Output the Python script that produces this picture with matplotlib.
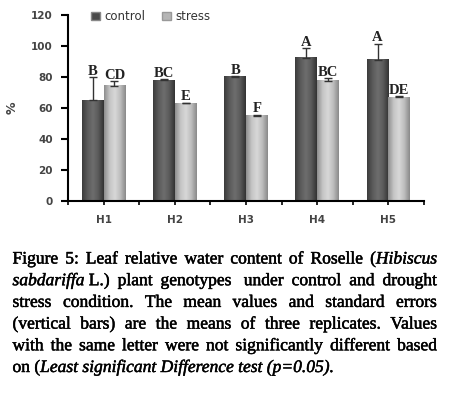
import numpy as np
import matplotlib
matplotlib.use("Agg")
import matplotlib.pyplot as plt
import matplotlib.patheffects as pe
from matplotlib.patches import Patch
from matplotlib.colors import LinearSegmentedColormap

# Data
genotypes = ['H1', 'H2', 'H3', 'H4', 'H5']
control = [65, 78, 80, 92.5, 91]
stress = [74.5, 63, 55, 77.5, 67]
control_err = [15, 0.8, 0.6, 6, 10.5]
stress_err = [2.8, 0.5, 0.8, 1.8, 0.5]
control_letters = ['B', 'BC', 'B', 'A', 'A']
stress_letters = ['CD', 'E', 'F', 'BC', 'DE']

caption_lines = [
    [[('Figure', 'n')], [('5:', 'n')], [('Leaf', 'n')], [('relative', 'n')], [('water', 'n')],
     [('content', 'n')], [('of', 'n')], [('Roselle', 'n')], [('(', 'n'), ('Hibiscus', 'i')]],
    [[('sabdariffa', 'i'), (' L.)', 'n')], [('plant', 'n')], [('genotypes ', 'n')], [('under', 'n')],
     [('control', 'n')], [('and', 'n')], [('drought', 'n')]],
    [[(w, 'n')] for w in 'stress condition. The mean values and standard errors'.split()],
    [[(w, 'n')] for w in '(vertical bars) are the means of three replicates. Values'.split()],
    [[(w, 'n')] for w in 'with the same letter were not significantly different based'.split()],
    [[('on', 'n')], [('(', 'n'), ('Least', 'i')], [('significant', 'i')], [('Difference', 'i')],
     [('test', 'i')], [('(p=0.05).', 'i')]],
]

W, H = 449, 395
fig = plt.figure(figsize=(W / 100, H / 100), dpi=100)
ax = fig.add_axes([68 / W, 1 - 201 / H, (424 - 68) / W, (201 - 15) / H])

x = np.arange(len(genotypes))
bw = 0.305
dark = LinearSegmentedColormap.from_list('d', ['#3c3c3c', '#5a5a5a', '#6e6e6e', '#5a5a5a', '#333333'])
light = LinearSegmentedColormap.from_list('l', ['#8e8e8e', '#c4c4c4', '#d8d8d8', '#bdbdbd', '#8a8a8a'])

b1 = ax.bar(x - bw / 2, control, bw, color='none', edgecolor='none', zorder=2)
b2 = ax.bar(x + bw / 2, stress, bw, color='none', edgecolor='none', zorder=2)
grad = np.linspace(0, 1, 64).reshape(1, -1)
for bars, cm in [(b1, dark), (b2, light)]:
    for p in bars:
        x0, w, h = p.get_x(), p.get_width(), p.get_height()
        ax.imshow(grad, cmap=cm, aspect='auto', extent=[x0, x0 + w, 0, h], zorder=1)

ax.errorbar(x - bw / 2, control, yerr=[np.zeros(5), control_err], fmt='none',
            ecolor='#333333', elinewidth=1, capsize=3, capthick=1, zorder=3)
ax.errorbar(x + bw / 2, stress, yerr=[np.zeros(5), stress_err], fmt='none',
            ecolor='#333333', elinewidth=1, capsize=3, capthick=1, zorder=3)

for i in range(len(genotypes)):
    ax.text(x[i] - bw / 2, control[i] + control_err[i] - 0.5, control_letters[i], ha='center',
            va='bottom', family='Liberation Serif', fontweight='bold', fontsize=10.5, color='#222222')
    ax.text(x[i] + bw / 2, stress[i] + stress_err[i] - 0.5, stress_letters[i], ha='center',
            va='bottom', family='Liberation Serif', fontweight='bold', fontsize=10.5, color='#222222')

ax.set_xlim(-0.5, 4.5)
ax.set_ylim(0, 120)
ax.set_yticks(range(0, 121, 20))
ax.set_xticks(x)
ax.set_xticklabels(genotypes)
ax.set_xticks(np.arange(-0.5, 4.6, 1), minor=True)
for s in ['top', 'right']:
    ax.spines[s].set_visible(False)
for s in ['left', 'bottom']:
    ax.spines[s].set_linewidth(1.5)
ax.tick_params(axis='y', length=5, width=1.5, pad=6, labelsize=7.5, labelcolor='#444444')
ax.tick_params(axis='x', which='both', length=3, width=1.2, pad=7, labelsize=7.5, labelcolor='#444444')
for lab in ax.get_yticklabels() + ax.get_xticklabels():
    lab.set_fontweight('bold')
ax.set_ylabel('%', fontsize=9, fontweight='bold', color='#444444')
ax.yaxis.set_label_coords(-0.14, 0.5)

handles = [Patch(facecolor='#4a4a4a', edgecolor='#888888', label='control'),
           Patch(facecolor='#b5b5b5', edgecolor='#999999', label='stress')]
leg = ax.legend(handles=handles, ncol=2, frameon=False, loc='upper left',
                bbox_to_anchor=(91 / W, 1 - 10 / H), bbox_transform=fig.transFigure,
                handlelength=0.75, handleheight=0.75, handletextpad=0.4, columnspacing=1.4,
                fontsize=8.5, borderpad=0, borderaxespad=0)
for t in leg.get_texts():
    t.set_color('#333333')

# Justified caption
fs = 12.6
left_px, right_px = 12.5, 437
baselines = [263.5, 285.2, 306.9, 328.6, 350.3, 372]
renderer = fig.canvas.get_renderer()
heavy = [pe.withStroke(linewidth=0.35, foreground='black')]


def word_width(word):
    total = 0
    for txt, st in word:
        t = fig.text(0, 0, txt, fontsize=fs, family='Liberation Serif',
                     style='italic' if st == 'i' else 'normal')
        total += t.get_window_extent(renderer).width
        t.remove()
    return total


space_w = word_width([('a a', 'n')]) - word_width([('aa', 'n')])
for li, words in enumerate(caption_lines):
    widths = [word_width(w) for w in words]
    if li < len(caption_lines) - 1:
        gap = (right_px - left_px - sum(widths)) / (len(words) - 1)
    else:
        gap = space_w
    xp = left_px
    yb = 1 - baselines[li] / H
    for w, wd in zip(words, widths):
        xs = xp
        for txt, st in w:
            t = fig.text(xs / W, yb, txt, fontsize=fs, family='Liberation Serif',
                         style='italic' if st == 'i' else 'normal', va='baseline', ha='left',
                         path_effects=heavy)
            xs += t.get_window_extent(renderer).width
        xp += wd + gap

fig.savefig('out.png', dpi=100)
